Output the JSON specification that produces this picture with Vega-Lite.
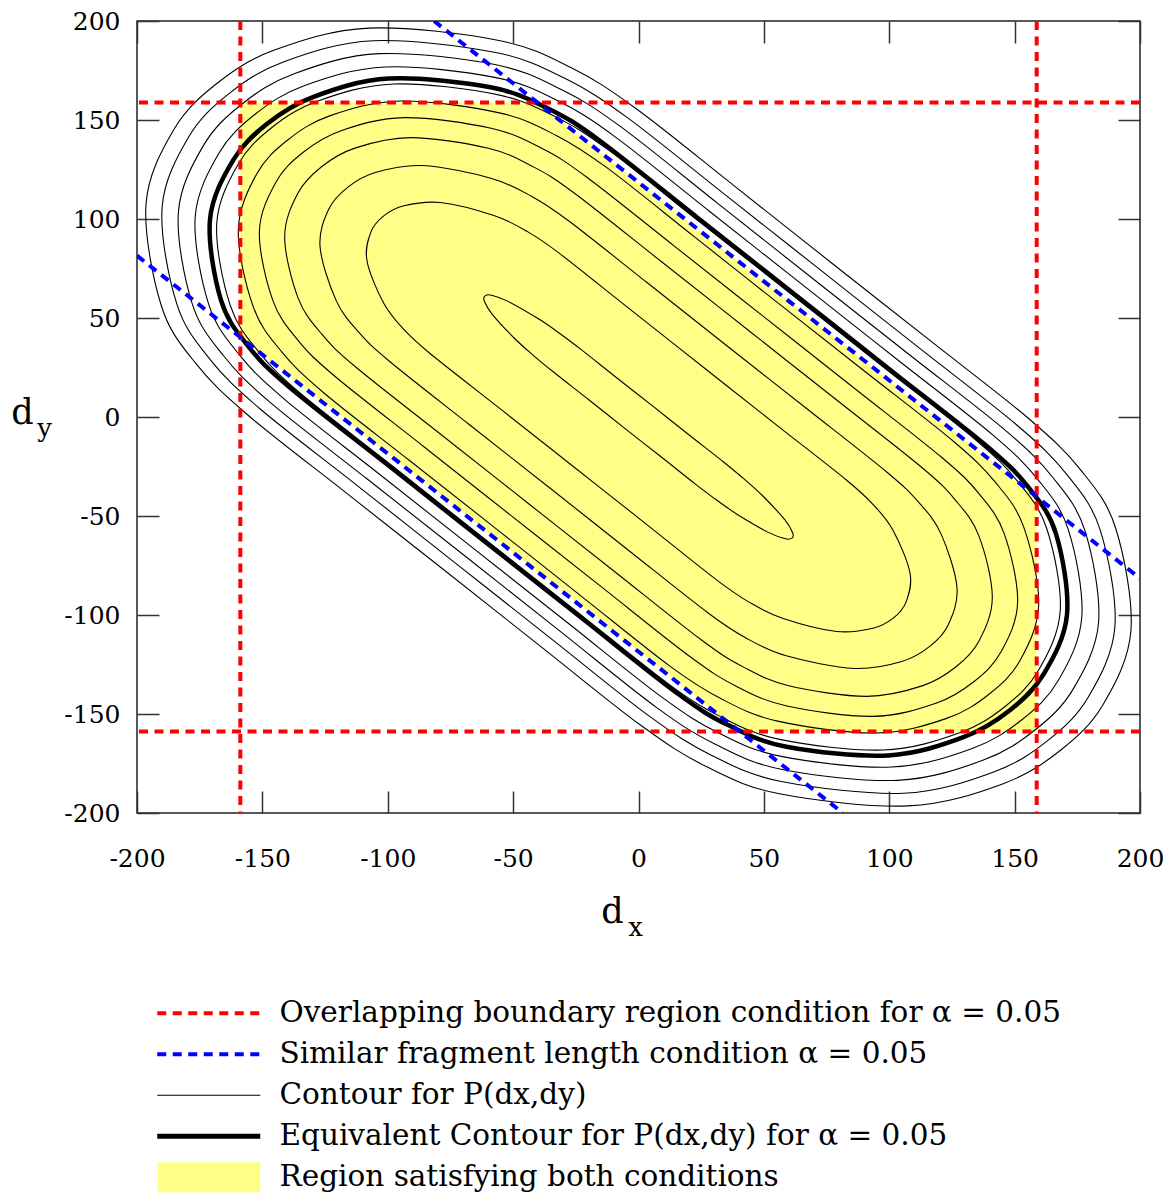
{
  "$schema": "https://vega.github.io/schema/vega-lite/v6.json",
  "width": 1003,
  "height": 792,
  "autosize": {"type": "none"},
  "padding": {"left": 137, "top": 21, "right": 33, "bottom": 382},
  "background": "white",
  "config": {
    "view": {"stroke": "#222222", "strokeWidth": 1.5},
    "font": "DejaVu Serif",
    "axis": {"labelFont": "DejaVu Serif", "labelFontSize": 25, "labelColor": "#000000", "titleFont": "DejaVu Serif", "titleColor": "#000000", "titleFontWeight": "normal", "grid": false, "domain": false, "tickColor": "#333333", "tickWidth": 1.5, "labelFlush": false, "labelOverlap": false}
  },
  "resolve": {"axis": {"x": "independent", "y": "independent"}},
  "layer": [
    {
      "data": {"values": [
        {"x": -158.8, "yu": 158.8, "yl": 40.3},
        {"x": -40.3, "yu": 158.8, "yl": -78.2},
        {"x": 40.3, "yu": 78.2, "yl": -158.8},
        {"x": 158.8, "yu": -40.3, "yl": -158.8}
      ]},
      "mark": {"type": "area", "color": "#ffff88", "opacity": 1, "fillOpacity": 1, "interpolate": "linear", "clip": true},
      "encoding": {
        "x": {"field": "x", "type": "quantitative", "scale": {"domain": [-200, 200], "nice": false, "zero": false},
          "axis": {"orient": "bottom", "values": [-200, -150, -100, -50, 0, 50, 100, 150, 200], "ticks": false, "tickSize": 0, "domain": false, "labelPadding": 53, "labelBaseline": "alphabetic", "labelExpr": "'' + datum.value", "title": "d", "titleFontSize": 35, "titleX": 475, "titleY": 109, "titleAlign": "center", "titleBaseline": "alphabetic"}},
        "y": {"field": "yu", "type": "quantitative", "scale": {"domain": [-200, 200], "nice": false, "zero": false},
          "axis": {"orient": "left", "values": [-200, -150, -100, -50, 0, 50, 100, 150, 200], "ticks": false, "tickSize": 0, "domain": false, "labelPadding": 17, "labelExpr": "'' + datum.value", "title": "d", "titleFontSize": 35, "titleAngle": 0, "titleX": -115, "titleY": 402, "titleAlign": "center", "titleBaseline": "alphabetic"}},
        "y2": {"field": "yl"}
      }
    },
    {
      "data": {"values": [
        {"c":1,"i":1,"x":77.4,"y":77.4},{"c":1,"i":2,"x":116.6,"y":38.3},{"c":1,"i":3,"x":155.7,"y":-0.9},{"c":1,"i":3.5,"x":176.4,"y":-26.8},{"c":1,"i":4,"x":190.3,"y":-56.2},{"c":1,"i":5,"x":196.4,"y":-107.6},{"c":1,"i":6,"x":185.3,"y":-145.2},{"c":1,"i":7,"x":168.3,"y":-168.3},{"c":1,"i":8,"x":145.2,"y":-185.3},{"c":1,"i":9,"x":107.6,"y":-196.4},{"c":1,"i":10,"x":56.2,"y":-190.3},{"c":1,"i":10.5,"x":26.8,"y":-176.4},{"c":1,"i":11,"x":0.9,"y":-155.7},{"c":1,"i":12,"x":-38.3,"y":-116.6},{"c":1,"i":13,"x":-77.4,"y":-77.4},{"c":1,"i":14,"x":-116.6,"y":-38.3},{"c":1,"i":15,"x":-155.7,"y":0.9},{"c":1,"i":15.5,"x":-176.4,"y":26.8},{"c":1,"i":16,"x":-190.3,"y":56.2},{"c":1,"i":17,"x":-196.4,"y":107.6},{"c":1,"i":18,"x":-185.3,"y":145.2},{"c":1,"i":19,"x":-168.3,"y":168.3},{"c":1,"i":20,"x":-145.2,"y":185.3},{"c":1,"i":21,"x":-107.6,"y":196.4},{"c":1,"i":22,"x":-56.2,"y":190.3},{"c":1,"i":22.5,"x":-26.8,"y":176.4},{"c":1,"i":23,"x":-0.9,"y":155.7},{"c":1,"i":24,"x":38.3,"y":116.6},
        {"c":2,"i":1,"x":73.4,"y":73.4},{"c":2,"i":2,"x":112.3,"y":34.5},{"c":2,"i":3,"x":151.1,"y":-4.3},{"c":2,"i":3.5,"x":170.8,"y":-29.0},{"c":2,"i":4,"x":184.1,"y":-57.0},{"c":2,"i":5,"x":190.0,"y":-105.7},{"c":2,"i":6,"x":179.4,"y":-141.4},{"c":2,"i":7,"x":163.3,"y":-163.3},{"c":2,"i":8,"x":141.4,"y":-179.4},{"c":2,"i":9,"x":105.7,"y":-190.0},{"c":2,"i":10,"x":57.0,"y":-184.1},{"c":2,"i":10.5,"x":29.0,"y":-170.8},{"c":2,"i":11,"x":4.3,"y":-151.1},{"c":2,"i":12,"x":-34.5,"y":-112.3},{"c":2,"i":13,"x":-73.4,"y":-73.4},{"c":2,"i":14,"x":-112.3,"y":-34.5},{"c":2,"i":15,"x":-151.1,"y":4.3},{"c":2,"i":15.5,"x":-170.8,"y":29.0},{"c":2,"i":16,"x":-184.1,"y":57.0},{"c":2,"i":17,"x":-190.0,"y":105.7},{"c":2,"i":18,"x":-179.4,"y":141.4},{"c":2,"i":19,"x":-163.3,"y":163.3},{"c":2,"i":20,"x":-141.4,"y":179.4},{"c":2,"i":21,"x":-105.7,"y":190.0},{"c":2,"i":22,"x":-57.0,"y":184.1},{"c":2,"i":22.5,"x":-29.0,"y":170.8},{"c":2,"i":23,"x":-4.3,"y":151.1},{"c":2,"i":24,"x":34.5,"y":112.3},
        {"c":3,"i":1,"x":69.7,"y":69.7},{"c":3,"i":2,"x":108.3,"y":31.2},{"c":3,"i":3,"x":146.9,"y":-7.4},{"c":3,"i":3.5,"x":165.4,"y":-30.8},{"c":3,"i":4,"x":178.0,"y":-57.3},{"c":3,"i":5,"x":183.5,"y":-103.4},{"c":3,"i":6,"x":173.4,"y":-137.3},{"c":3,"i":7,"x":158.1,"y":-158.1},{"c":3,"i":8,"x":137.3,"y":-173.4},{"c":3,"i":9,"x":103.4,"y":-183.5},{"c":3,"i":10,"x":57.3,"y":-178.0},{"c":3,"i":10.5,"x":30.8,"y":-165.4},{"c":3,"i":11,"x":7.4,"y":-146.9},{"c":3,"i":12,"x":-31.2,"y":-108.3},{"c":3,"i":13,"x":-69.7,"y":-69.7},{"c":3,"i":14,"x":-108.3,"y":-31.2},{"c":3,"i":15,"x":-146.9,"y":7.4},{"c":3,"i":15.5,"x":-165.4,"y":30.8},{"c":3,"i":16,"x":-178.0,"y":57.3},{"c":3,"i":17,"x":-183.5,"y":103.4},{"c":3,"i":18,"x":-173.4,"y":137.3},{"c":3,"i":19,"x":-158.1,"y":158.1},{"c":3,"i":20,"x":-137.3,"y":173.4},{"c":3,"i":21,"x":-103.4,"y":183.5},{"c":3,"i":22,"x":-57.3,"y":178.0},{"c":3,"i":22.5,"x":-30.8,"y":165.4},{"c":3,"i":23,"x":-7.4,"y":146.9},{"c":3,"i":24,"x":31.2,"y":108.3},
        {"c":4,"i":1,"x":66.1,"y":66.1},{"c":4,"i":2,"x":103.8,"y":28.4},{"c":4,"i":3,"x":141.5,"y":-9.3},{"c":4,"i":3.5,"x":159.3,"y":-31.6},{"c":4,"i":4,"x":171.4,"y":-56.9},{"c":4,"i":5,"x":176.8,"y":-100.9},{"c":4,"i":6,"x":167.4,"y":-133.1},{"c":4,"i":7,"x":152.9,"y":-152.9},{"c":4,"i":8,"x":133.1,"y":-167.4},{"c":4,"i":9,"x":100.9,"y":-176.8},{"c":4,"i":10,"x":56.9,"y":-171.4},{"c":4,"i":10.5,"x":31.6,"y":-159.3},{"c":4,"i":11,"x":9.3,"y":-141.5},{"c":4,"i":12,"x":-28.4,"y":-103.8},{"c":4,"i":13,"x":-66.1,"y":-66.1},{"c":4,"i":14,"x":-103.8,"y":-28.4},{"c":4,"i":15,"x":-141.5,"y":9.3},{"c":4,"i":15.5,"x":-159.3,"y":31.6},{"c":4,"i":16,"x":-171.4,"y":56.9},{"c":4,"i":17,"x":-176.8,"y":100.9},{"c":4,"i":18,"x":-167.4,"y":133.1},{"c":4,"i":19,"x":-152.9,"y":152.9},{"c":4,"i":20,"x":-133.1,"y":167.4},{"c":4,"i":21,"x":-100.9,"y":176.8},{"c":4,"i":22,"x":-56.9,"y":171.4},{"c":4,"i":22.5,"x":-31.6,"y":159.3},{"c":4,"i":23,"x":-9.3,"y":141.5},{"c":4,"i":24,"x":28.4,"y":103.8},
        {"c":5,"i":1,"x":61.5,"y":61.5},{"c":5,"i":2,"x":97.9,"y":25.0},{"c":5,"i":3,"x":134.4,"y":-11.5},{"c":5,"i":3.5,"x":151.2,"y":-32.5},{"c":5,"i":4,"x":162.8,"y":-56.3},{"c":5,"i":5,"x":168.2,"y":-97.6},{"c":5,"i":6,"x":159.6,"y":-127.8},{"c":5,"i":7,"x":146.2,"y":-146.2},{"c":5,"i":8,"x":127.8,"y":-159.6},{"c":5,"i":9,"x":97.6,"y":-168.2},{"c":5,"i":10,"x":56.3,"y":-162.8},{"c":5,"i":10.5,"x":32.5,"y":-151.2},{"c":5,"i":11,"x":11.5,"y":-134.4},{"c":5,"i":12,"x":-25.0,"y":-97.9},{"c":5,"i":13,"x":-61.5,"y":-61.5},{"c":5,"i":14,"x":-97.9,"y":-25.0},{"c":5,"i":15,"x":-134.4,"y":11.5},{"c":5,"i":15.5,"x":-151.2,"y":32.5},{"c":5,"i":16,"x":-162.8,"y":56.3},{"c":5,"i":17,"x":-168.2,"y":97.6},{"c":5,"i":18,"x":-159.6,"y":127.8},{"c":5,"i":19,"x":-146.2,"y":146.2},{"c":5,"i":20,"x":-127.8,"y":159.6},{"c":5,"i":21,"x":-97.6,"y":168.2},{"c":5,"i":22,"x":-56.3,"y":162.8},{"c":5,"i":22.5,"x":-32.5,"y":151.2},{"c":5,"i":23,"x":-11.5,"y":134.4},{"c":5,"i":24,"x":25.0,"y":97.9},
        {"c":6,"i":1,"x":56.6,"y":56.6},{"c":6,"i":2,"x":91.2,"y":22.1},{"c":6,"i":3,"x":125.8,"y":-12.5},{"c":6,"i":3.5,"x":142.2,"y":-32.8},{"c":6,"i":4,"x":153.6,"y":-55.5},{"c":6,"i":5,"x":159.6,"y":-94.6},{"c":6,"i":6,"x":152.2,"y":-122.9},{"c":6,"i":7,"x":139.9,"y":-139.9},{"c":6,"i":8,"x":122.9,"y":-152.2},{"c":6,"i":9,"x":94.6,"y":-159.6},{"c":6,"i":10,"x":55.5,"y":-153.6},{"c":6,"i":10.5,"x":32.8,"y":-142.2},{"c":6,"i":11,"x":12.5,"y":-125.8},{"c":6,"i":12,"x":-22.1,"y":-91.2},{"c":6,"i":13,"x":-56.6,"y":-56.6},{"c":6,"i":14,"x":-91.2,"y":-22.1},{"c":6,"i":15,"x":-125.8,"y":12.5},{"c":6,"i":15.5,"x":-142.2,"y":32.8},{"c":6,"i":16,"x":-153.6,"y":55.5},{"c":6,"i":17,"x":-159.6,"y":94.6},{"c":6,"i":18,"x":-152.2,"y":122.9},{"c":6,"i":19,"x":-139.9,"y":139.9},{"c":6,"i":20,"x":-122.9,"y":152.2},{"c":6,"i":21,"x":-94.6,"y":159.6},{"c":6,"i":22,"x":-55.5,"y":153.6},{"c":6,"i":22.5,"x":-32.8,"y":142.2},{"c":6,"i":23,"x":-12.5,"y":125.8},{"c":6,"i":24,"x":22.1,"y":91.2},
        {"c":7,"i":1,"x":50.3,"y":50.3},{"c":7,"i":2,"x":85.7,"y":14.9},{"c":7,"i":3,"x":121.1,"y":-20.6},{"c":7,"i":3.5,"x":135.7,"y":-38.6},{"c":7,"i":4,"x":145.8,"y":-58.8},{"c":7,"i":5,"x":151.2,"y":-93.5},{"c":7,"i":6,"x":144.6,"y":-118.6},{"c":7,"i":7,"x":133.7,"y":-133.7},{"c":7,"i":8,"x":118.6,"y":-144.6},{"c":7,"i":9,"x":93.5,"y":-151.2},{"c":7,"i":10,"x":58.8,"y":-145.8},{"c":7,"i":10.5,"x":38.6,"y":-135.7},{"c":7,"i":11,"x":20.6,"y":-121.1},{"c":7,"i":12,"x":-14.9,"y":-85.7},{"c":7,"i":13,"x":-50.3,"y":-50.3},{"c":7,"i":14,"x":-85.7,"y":-14.9},{"c":7,"i":15,"x":-121.1,"y":20.6},{"c":7,"i":15.5,"x":-135.7,"y":38.6},{"c":7,"i":16,"x":-145.8,"y":58.8},{"c":7,"i":17,"x":-151.2,"y":93.5},{"c":7,"i":18,"x":-144.6,"y":118.6},{"c":7,"i":19,"x":-133.7,"y":133.7},{"c":7,"i":20,"x":-118.6,"y":144.6},{"c":7,"i":21,"x":-93.5,"y":151.2},{"c":7,"i":22,"x":-58.8,"y":145.8},{"c":7,"i":22.5,"x":-38.6,"y":135.7},{"c":7,"i":23,"x":-20.6,"y":121.1},{"c":7,"i":24,"x":14.9,"y":85.7},
        {"c":8,"i":1,"x":43.8,"y":43.8},{"c":8,"i":2,"x":78.4,"y":9.2},{"c":8,"i":3,"x":112.9,"y":-25.4},{"c":8,"i":3.5,"x":126.2,"y":-41.7},{"c":8,"i":4,"x":135.7,"y":-59.9},{"c":8,"i":5,"x":141.1,"y":-90.9},{"c":8,"i":6,"x":135.8,"y":-113.1},{"c":8,"i":7,"x":126.4,"y":-126.4},{"c":8,"i":8,"x":113.1,"y":-135.8},{"c":8,"i":9,"x":90.9,"y":-141.1},{"c":8,"i":10,"x":59.9,"y":-135.7},{"c":8,"i":10.5,"x":41.7,"y":-126.2},{"c":8,"i":11,"x":25.4,"y":-112.9},{"c":8,"i":12,"x":-9.2,"y":-78.4},{"c":8,"i":13,"x":-43.8,"y":-43.8},{"c":8,"i":14,"x":-78.4,"y":-9.2},{"c":8,"i":15,"x":-112.9,"y":25.4},{"c":8,"i":15.5,"x":-126.2,"y":41.7},{"c":8,"i":16,"x":-135.7,"y":59.9},{"c":8,"i":17,"x":-141.1,"y":90.9},{"c":8,"i":18,"x":-135.8,"y":113.1},{"c":8,"i":19,"x":-126.4,"y":126.4},{"c":8,"i":20,"x":-113.1,"y":135.8},{"c":8,"i":21,"x":-90.9,"y":141.1},{"c":8,"i":22,"x":-59.9,"y":135.7},{"c":8,"i":22.5,"x":-41.7,"y":126.2},{"c":8,"i":23,"x":-25.4,"y":112.9},{"c":8,"i":24,"x":9.2,"y":78.4},
        {"c":9,"i":1,"x":35.6,"y":35.6},{"c":9,"i":2,"x":67.4,"y":3.9},{"c":9,"i":3,"x":99.1,"y":-27.9},{"c":9,"i":3.5,"x":111.5,"y":-42.7},{"c":9,"i":4,"x":120.6,"y":-58.9},{"c":9,"i":5,"x":127.0,"y":-86.1},{"c":9,"i":6,"x":123.5,"y":-105.0},{"c":9,"i":7,"x":116.0,"y":-116.0},{"c":9,"i":8,"x":105.0,"y":-123.5},{"c":9,"i":9,"x":86.1,"y":-127.0},{"c":9,"i":10,"x":58.9,"y":-120.6},{"c":9,"i":10.5,"x":42.7,"y":-111.5},{"c":9,"i":11,"x":27.9,"y":-99.1},{"c":9,"i":12,"x":-3.9,"y":-67.4},{"c":9,"i":13,"x":-35.6,"y":-35.6},{"c":9,"i":14,"x":-67.4,"y":-3.9},{"c":9,"i":15,"x":-99.1,"y":27.9},{"c":9,"i":15.5,"x":-111.5,"y":42.7},{"c":9,"i":16,"x":-120.6,"y":58.9},{"c":9,"i":17,"x":-127.0,"y":86.1},{"c":9,"i":18,"x":-123.5,"y":105.0},{"c":9,"i":19,"x":-116.0,"y":116.0},{"c":9,"i":20,"x":-105.0,"y":123.5},{"c":9,"i":21,"x":-86.1,"y":127.0},{"c":9,"i":22,"x":-58.9,"y":120.6},{"c":9,"i":22.5,"x":-42.7,"y":111.5},{"c":9,"i":23,"x":-27.9,"y":99.1},{"c":9,"i":24,"x":3.9,"y":67.4},
        {"c":10,"i":1,"x":25.5,"y":25.5},{"c":10,"i":2,"x":54.2,"y":-3.2},{"c":10,"i":3,"x":82.9,"y":-31.8},{"c":10,"i":3.5,"x":93.5,"y":-44.1},{"c":10,"i":4,"x":101.6,"y":-57.4},{"c":10,"i":5,"x":108.3,"y":-79.0},{"c":10,"i":6,"x":106.7,"y":-93.5},{"c":10,"i":7,"x":101.6,"y":-101.6},{"c":10,"i":8,"x":93.5,"y":-106.7},{"c":10,"i":9,"x":79.0,"y":-108.3},{"c":10,"i":10,"x":57.4,"y":-101.6},{"c":10,"i":10.5,"x":44.1,"y":-93.5},{"c":10,"i":11,"x":31.8,"y":-82.9},{"c":10,"i":12,"x":3.2,"y":-54.2},{"c":10,"i":13,"x":-25.5,"y":-25.5},{"c":10,"i":14,"x":-54.2,"y":3.2},{"c":10,"i":15,"x":-82.9,"y":31.8},{"c":10,"i":15.5,"x":-93.5,"y":44.1},{"c":10,"i":16,"x":-101.6,"y":57.4},{"c":10,"i":17,"x":-108.3,"y":79.0},{"c":10,"i":18,"x":-106.7,"y":93.5},{"c":10,"i":19,"x":-101.6,"y":101.6},{"c":10,"i":20,"x":-93.5,"y":106.7},{"c":10,"i":21,"x":-79.0,"y":108.3},{"c":10,"i":22,"x":-57.4,"y":101.6},{"c":10,"i":22.5,"x":-44.1,"y":93.5},{"c":10,"i":23,"x":-31.8,"y":82.9},{"c":10,"i":24,"x":-3.2,"y":54.2},
        {"c":11,"i":1,"x":5.6,"y":5.6},{"c":11,"i":2,"x":19.7,"y":-8.6},{"c":11,"i":3,"x":33.9,"y":-22.7},{"c":11,"i":3.5,"x":42.2,"y":-31.4},{"c":11,"i":4,"x":49.6,"y":-39.9},{"c":11,"i":5,"x":58.4,"y":-52.0},{"c":11,"i":6,"x":61.5,"y":-58.6},{"c":11,"i":7,"x":61.2,"y":-61.2},{"c":11,"i":8,"x":58.6,"y":-61.5},{"c":11,"i":9,"x":52.0,"y":-58.4},{"c":11,"i":10,"x":39.9,"y":-49.6},{"c":11,"i":10.5,"x":31.4,"y":-42.2},{"c":11,"i":11,"x":22.7,"y":-33.9},{"c":11,"i":12,"x":8.6,"y":-19.7},{"c":11,"i":13,"x":-5.6,"y":-5.6},{"c":11,"i":14,"x":-19.7,"y":8.6},{"c":11,"i":15,"x":-33.9,"y":22.7},{"c":11,"i":15.5,"x":-42.2,"y":31.4},{"c":11,"i":16,"x":-49.6,"y":39.9},{"c":11,"i":17,"x":-58.4,"y":52.0},{"c":11,"i":18,"x":-61.5,"y":58.6},{"c":11,"i":19,"x":-61.2,"y":61.2},{"c":11,"i":20,"x":-58.6,"y":61.5},{"c":11,"i":21,"x":-52.0,"y":58.4},{"c":11,"i":22,"x":-39.9,"y":49.6},{"c":11,"i":22.5,"x":-31.4,"y":42.2},{"c":11,"i":23,"x":-22.7,"y":33.9},{"c":11,"i":24,"x":-8.6,"y":19.7}
      ]},
      "mark": {"type": "line", "interpolate": "cardinal-closed", "tension": 0, "strokeWidth": 1.1, "clip": true},
      "encoding": {
        "x": {"field": "x", "type": "quantitative", "scale": {"domain": [-200, 200], "nice": false, "zero": false},
          "axis": {"orient": "bottom", "offset": -22, "values": [-200, -150, -100, -50, 0, 50, 100, 150, 200], "labels": false, "ticks": true, "tickSize": 22, "domain": false, "title": null}},
        "y": {"field": "y", "type": "quantitative", "scale": {"domain": [-200, 200], "nice": false, "zero": false},
          "axis": {"orient": "left", "offset": -22, "values": [-200, -150, -100, -50, 0, 50, 100, 150, 200], "labels": false, "ticks": true, "tickSize": 22, "domain": false, "title": null}},
        "detail": {"field": "c", "type": "nominal"},
        "order": {"field": "i", "type": "quantitative"},
        "color": {"datum": "Contour for P(dx,dy)", "type": "nominal",
          "scale": {"domain": ["Overlapping boundary region condition for α = 0.05", "Similar fragment length condition α = 0.05", "Contour for P(dx,dy)", "Equivalent Contour for P(dx,dy) for α = 0.05", "Region satisfying both conditions"], "range": ["#ff0000", "#0000ff", "#000000", "#000000", "#ffff88"]},
          "legend": {"title": null, "orient": "none", "legendX": 19, "legendY": 972, "direction": "vertical", "symbolType": "stroke", "symbolSize": 10609, "symbolStrokeWidth": 4, "clipHeight": 40.5, "rowPadding": 0, "padding": 0, "labelFont": "DejaVu Serif", "labelFontSize": 29.5, "labelColor": "#000000", "labelLimit": 0, "labelOffset": 56, "symbolOffset": 38,
            "encode": {"symbols": {"update": {"strokeWidth": {"signal": "datum.index === 4 ? 30 : datum.index === 2 ? 1.2 : datum.index === 3 ? 5 : 4"}, "strokeDash": {"signal": "datum.index < 2 ? [9, 6.5] : [1, 0]"}}}}}}
      }
    },
    {
      "data": {"values": [
        {"c":0,"i":1,"x":62.1,"y":62.1},{"c":0,"i":2,"x":100.8,"y":23.4},{"c":0,"i":3,"x":139.4,"y":-15.3},{"c":0,"i":3.5,"x":155.6,"y":-35.7},{"c":0,"i":4,"x":166.5,"y":-59.0},{"c":0,"i":5,"x":170.9,"y":-99.6},{"c":0,"i":6,"x":161.7,"y":-129.6},{"c":0,"i":7,"x":148.1,"y":-148.1},{"c":0,"i":8,"x":129.6,"y":-161.7},{"c":0,"i":9,"x":99.6,"y":-170.9},{"c":0,"i":10,"x":59.0,"y":-166.5},{"c":0,"i":10.5,"x":35.7,"y":-155.6},{"c":0,"i":11,"x":15.3,"y":-139.4},{"c":0,"i":12,"x":-23.4,"y":-100.8},{"c":0,"i":13,"x":-62.1,"y":-62.1},{"c":0,"i":14,"x":-100.8,"y":-23.4},{"c":0,"i":15,"x":-139.4,"y":15.3},{"c":0,"i":15.5,"x":-155.6,"y":35.7},{"c":0,"i":16,"x":-166.5,"y":59.0},{"c":0,"i":17,"x":-170.9,"y":99.6},{"c":0,"i":18,"x":-161.7,"y":129.6},{"c":0,"i":19,"x":-148.1,"y":148.1},{"c":0,"i":20,"x":-129.6,"y":161.7},{"c":0,"i":21,"x":-99.6,"y":170.9},{"c":0,"i":22,"x":-59.0,"y":166.5},{"c":0,"i":22.5,"x":-35.7,"y":155.6},{"c":0,"i":23,"x":-15.3,"y":139.4},{"c":0,"i":24,"x":23.4,"y":100.8}
      ]},
      "mark": {"type": "line", "interpolate": "cardinal-closed", "tension": 0, "strokeWidth": 4.5, "clip": true},
      "encoding": {
        "x": {"field": "x", "type": "quantitative", "scale": {"domain": [-200, 200], "nice": false, "zero": false},
          "axis": {"orient": "top", "offset": -22, "values": [-200, -150, -100, -50, 0, 50, 100, 150, 200], "labels": false, "ticks": true, "tickSize": 22, "domain": false, "title": null}},
        "y": {"field": "y", "type": "quantitative", "scale": {"domain": [-200, 200], "nice": false, "zero": false},
          "axis": {"orient": "right", "offset": -22, "values": [-200, -150, -100, -50, 0, 50, 100, 150, 200], "labels": false, "ticks": true, "tickSize": 22, "domain": false, "title": null}},
        "order": {"field": "i", "type": "quantitative"},
        "color": {"datum": "Equivalent Contour for P(dx,dy) for α = 0.05", "type": "nominal",
          "scale": {"domain": ["Overlapping boundary region condition for α = 0.05", "Similar fragment length condition α = 0.05", "Contour for P(dx,dy)", "Equivalent Contour for P(dx,dy) for α = 0.05", "Region satisfying both conditions"], "range": ["#ff0000", "#0000ff", "#000000", "#000000", "#ffff88"]},
          "legend": {"title": null, "orient": "none", "legendX": 19, "legendY": 972, "direction": "vertical", "symbolType": "stroke", "symbolSize": 10609, "symbolStrokeWidth": 4, "clipHeight": 40.5, "rowPadding": 0, "padding": 0, "labelFont": "DejaVu Serif", "labelFontSize": 29.5, "labelColor": "#000000", "labelLimit": 0, "labelOffset": 56, "symbolOffset": 38,
            "encode": {"symbols": {"update": {"strokeWidth": {"signal": "datum.index === 4 ? 30 : datum.index === 2 ? 1.2 : datum.index === 3 ? 5 : 4"}, "strokeDash": {"signal": "datum.index < 2 ? [9, 6.5] : [1, 0]"}}}}}}
      }
    },
    {
      "data": {"values": [{"xv": -158.8}, {"xv": 158.8}]},
      "mark": {"type": "rule", "strokeWidth": 4, "strokeDash": [9, 6.5], "clip": true},
      "encoding": {
        "x": {"field": "xv", "type": "quantitative", "scale": {"domain": [-200, 200], "nice": false, "zero": false},
          "axis": {"orient": "bottom", "labels": false, "ticks": false, "domain": false, "title": "x", "titleFontSize": 26, "titleX": 498, "titleY": 122, "titleAlign": "center", "titleBaseline": "alphabetic"}},
        "color": {"datum": "Overlapping boundary region condition for α = 0.05", "type": "nominal",
          "scale": {"domain": ["Overlapping boundary region condition for α = 0.05", "Similar fragment length condition α = 0.05", "Contour for P(dx,dy)", "Equivalent Contour for P(dx,dy) for α = 0.05", "Region satisfying both conditions"], "range": ["#ff0000", "#0000ff", "#000000", "#000000", "#ffff88"]},
          "legend": {"title": null, "orient": "none", "legendX": 19, "legendY": 972, "direction": "vertical", "symbolType": "stroke", "symbolSize": 10609, "symbolStrokeWidth": 4, "clipHeight": 40.5, "rowPadding": 0, "padding": 0, "labelFont": "DejaVu Serif", "labelFontSize": 29.5, "labelColor": "#000000", "labelLimit": 0, "labelOffset": 56, "symbolOffset": 38,
            "encode": {"symbols": {"update": {"strokeWidth": {"signal": "datum.index === 4 ? 30 : datum.index === 2 ? 1.2 : datum.index === 3 ? 5 : 4"}, "strokeDash": {"signal": "datum.index < 2 ? [9, 6.5] : [1, 0]"}}}}}}
      }
    },
    {
      "data": {"values": [{"yv": 158.8}, {"yv": -158.8}]},
      "mark": {"type": "rule", "strokeWidth": 4, "strokeDash": [9, 6.5], "clip": true},
      "encoding": {
        "y": {"field": "yv", "type": "quantitative", "scale": {"domain": [-200, 200], "nice": false, "zero": false},
          "axis": {"orient": "left", "labels": false, "ticks": false, "domain": false, "title": "y", "titleFontSize": 26, "titleAngle": 0, "titleX": -93, "titleY": 415.7, "titleAlign": "center", "titleBaseline": "alphabetic"}},
        "color": {"datum": "Overlapping boundary region condition for α = 0.05", "type": "nominal",
          "scale": {"domain": ["Overlapping boundary region condition for α = 0.05", "Similar fragment length condition α = 0.05", "Contour for P(dx,dy)", "Equivalent Contour for P(dx,dy) for α = 0.05", "Region satisfying both conditions"], "range": ["#ff0000", "#0000ff", "#000000", "#000000", "#ffff88"]},
          "legend": {"title": null, "orient": "none", "legendX": 19, "legendY": 972, "direction": "vertical", "symbolType": "stroke", "symbolSize": 10609, "symbolStrokeWidth": 4, "clipHeight": 40.5, "rowPadding": 0, "padding": 0, "labelFont": "DejaVu Serif", "labelFontSize": 29.5, "labelColor": "#000000", "labelLimit": 0, "labelOffset": 56, "symbolOffset": 38,
            "encode": {"symbols": {"update": {"strokeWidth": {"signal": "datum.index === 4 ? 30 : datum.index === 2 ? 1.2 : datum.index === 3 ? 5 : 4"}, "strokeDash": {"signal": "datum.index < 2 ? [9, 6.5] : [1, 0]"}}}}}}
      }
    },
    {
      "data": {"values": [{"xa": -81.5, "ya": 200, "xb": 200, "yb": -81.5}, {"xa": -200, "ya": 81.5, "xb": 81.5, "yb": -200}]},
      "mark": {"type": "rule", "strokeWidth": 4, "strokeDash": [9, 6.5], "clip": true},
      "encoding": {
        "x": {"field": "xa", "type": "quantitative", "scale": {"domain": [-200, 200], "nice": false, "zero": false}, "axis": null},
        "y": {"field": "ya", "type": "quantitative", "scale": {"domain": [-200, 200], "nice": false, "zero": false}, "axis": null},
        "x2": {"field": "xb"},
        "y2": {"field": "yb"},
        "color": {"datum": "Similar fragment length condition α = 0.05", "type": "nominal",
          "scale": {"domain": ["Overlapping boundary region condition for α = 0.05", "Similar fragment length condition α = 0.05", "Contour for P(dx,dy)", "Equivalent Contour for P(dx,dy) for α = 0.05", "Region satisfying both conditions"], "range": ["#ff0000", "#0000ff", "#000000", "#000000", "#ffff88"]},
          "legend": {"title": null, "orient": "none", "legendX": 19, "legendY": 972, "direction": "vertical", "symbolType": "stroke", "symbolSize": 10609, "symbolStrokeWidth": 4, "clipHeight": 40.5, "rowPadding": 0, "padding": 0, "labelFont": "DejaVu Serif", "labelFontSize": 29.5, "labelColor": "#000000", "labelLimit": 0, "labelOffset": 56, "symbolOffset": 38,
            "encode": {"symbols": {"update": {"strokeWidth": {"signal": "datum.index === 4 ? 30 : datum.index === 2 ? 1.2 : datum.index === 3 ? 5 : 4"}, "strokeDash": {"signal": "datum.index < 2 ? [9, 6.5] : [1, 0]"}}}}}}
      }
    }
  ]
}
